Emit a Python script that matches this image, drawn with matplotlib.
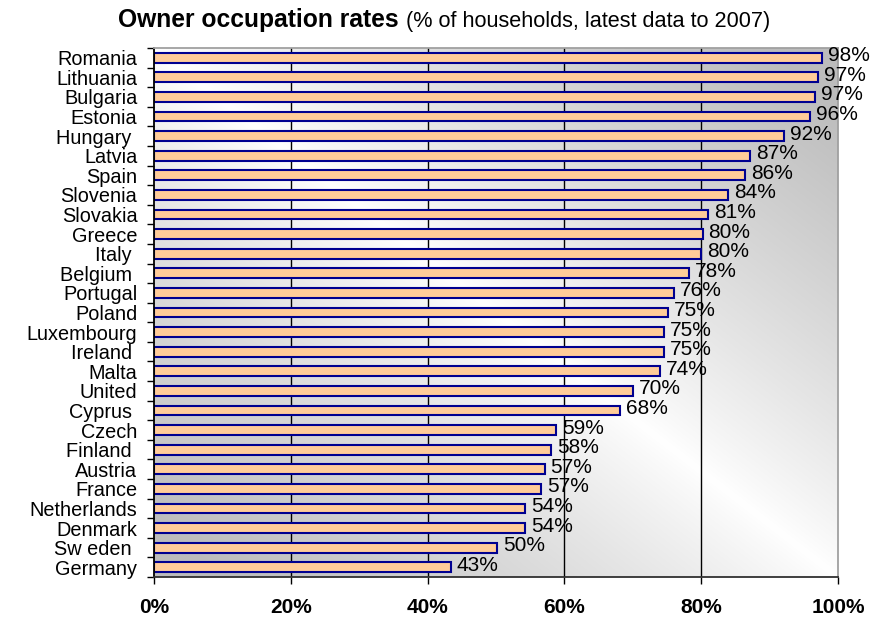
import numpy as np
import matplotlib
matplotlib.use("Agg")
import matplotlib.pyplot as plt
from matplotlib.ticker import FixedLocator

plt.rcParams['font.family'] = ['Liberation Sans', 'DejaVu Sans']

countries = ["Romania", "Lithuania", "Bulgaria", "Estonia", "Hungary ", "Latvia", "Spain",
             "Slovenia", "Slovakia", "Greece", "Italy ", "Belgium ", "Portugal", "Poland",
             "Luxembourg", "Ireland ", "Malta", "United", "Cyprus ", "Czech", "Finland ",
             "Austria", "France", "Netherlands", "Denmark", "Sw eden ", "Germany"]
rates = [97.7, 97.1, 96.6, 95.9, 92.1, 87.1, 86.4, 83.9, 81.0, 80.2, 80.0, 78.2, 76.0, 75.2,
         74.6, 74.6, 74.0, 70.0, 68.1, 58.8, 58.0, 57.1, 56.6, 54.2, 54.2, 50.1, 43.4]
xticks = [0, 20, 40, 60, 80, 100]
xtick_labels = ["0%", "20%", "40%", "60%", "80%", "100%"]

W, H = 875, 619
fig = plt.figure(figsize=(W / 100, H / 100), dpi=100)
ax = fig.add_axes([154 / W, (H - 577) / H, (838 - 154) / W, (577 - 48) / H])

n = len(countries)
ypos = np.arange(n)

# gradient background: gray at top-right & bottom-left, white along the main diagonal
gx, gy = np.meshgrid(np.linspace(0, 1, 300), np.linspace(0, 1, 300))
g = np.clip(np.abs(gx - gy) * 1.1, 0, 1) ** 0.85
cmap = matplotlib.colors.LinearSegmentedColormap.from_list("bg", ["#ffffff", "#bcbcbc"])
ax.imshow(g, extent=[0, 100, n - 0.5, -0.5], cmap=cmap, aspect='auto', zorder=0,
          interpolation='bilinear', vmin=0, vmax=1)

ax.set_xlim(0, 100)
ax.set_ylim(n - 0.5, -0.5)

for x in xticks[1:-1]:
    ax.axvline(x, color='black', lw=1.0, zorder=1)

ax.barh(ypos, rates, height=0.5, color='#ffcc99', edgecolor='#000090', linewidth=1.5, zorder=2)

for y, v in zip(ypos, rates):
    ax.annotate(f"{v:.0f}%", xy=(v, y), xytext=(6, 2), textcoords='offset pixels',
                ha='left', va='center', fontsize=15, color='black', zorder=3)

ax.set_xticks(xticks)
ax.set_xticklabels(xtick_labels, fontsize=15, fontweight='bold')
ax.tick_params(axis='x', direction='out', length=5, width=1, pad=10, colors='black')

ax.set_yticks(ypos)
ax.set_yticklabels(countries, fontsize=14.3)
ax.yaxis.set_minor_locator(FixedLocator(np.arange(-0.5, n, 1.0)))
ax.tick_params(axis='y', which='major', length=0, pad=12)
ax.tick_params(axis='y', which='minor', length=5, width=1, direction='out', color='black')

ax.spines['left'].set_color('black')
ax.spines['left'].set_linewidth(1.3)
ax.spines['bottom'].set_color('#303030')
ax.spines['bottom'].set_linewidth(1.3)
ax.spines['top'].set_color('#a0a0a0')
ax.spines['right'].set_color('#a0a0a0')
ax.spines['top'].set_linewidth(1.3)
ax.spines['right'].set_linewidth(1.3)

t1 = fig.text(118 / W, 1 - 27 / H, "Owner occupation rates", fontsize=17.7, fontweight='bold',
              ha='left', va='baseline')
fig.canvas.draw()
bb = t1.get_window_extent()
fig.text((bb.x1 + 7) / W, 1 - 27 / H, "(% of households, latest data to 2007)", fontsize=15.6,
         ha='left', va='baseline')

fig.savefig("out.png", dpi=100)
